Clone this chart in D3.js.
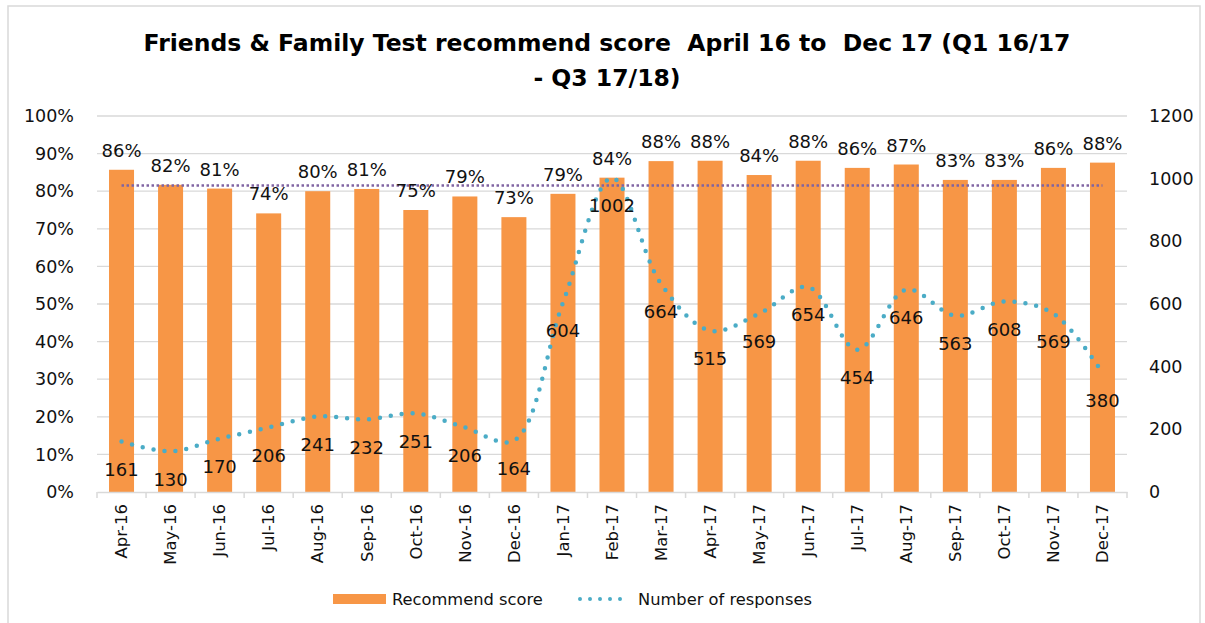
<!DOCTYPE html>
<html>
<head>
<meta charset="utf-8">
<script src="https://cdn.jsdelivr.net/npm/d3@7"></script>
<style>
  body { margin: 0; background: #fff; }
  text { font-family: "DejaVu Sans", sans-serif; fill: #111; }
</style>
</head>
<body>
<div class="chart"></div>
<script>
// data
var months = ["Apr-16", "May-16", "Jun-16", "Jul-16", "Aug-16", "Sep-16", "Oct-16",
    "Nov-16", "Dec-16", "Jan-17", "Feb-17", "Mar-17", "Apr-17", "May-17", "Jun-17",
    "Jul-17", "Aug-17", "Sep-17", "Oct-17", "Nov-17", "Dec-17"];
var recommendScore = [0.857, 0.817, 0.807, 0.741, 0.800, 0.806, 0.750, 0.786, 0.731,
    0.793, 0.836, 0.880, 0.881, 0.843, 0.881, 0.862, 0.871, 0.830, 0.830, 0.862, 0.876];
var responses = [161, 130, 170, 206, 241, 232, 251, 206, 164, 604, 1002, 664, 515,
    569, 654, 454, 646, 563, 608, 569, 380];
var averageScore = months.map(function () { return 0.815; });
var leftTicks = [0, 0.1, 0.2, 0.3, 0.4, 0.5, 0.6, 0.7, 0.8, 0.9, 1.0];
var rightTicks = [0, 200, 400, 600, 800, 1000, 1200];

var W = 1205, H = 623;
var margin = {top: 116, right: 78, bottom: 131, left: 97},
    width = W - margin.left - margin.right,
    height = H - margin.top - margin.bottom;

var ORANGE = "#f79646", TEAL = "#4bacc6", PURPLE = "#8064a2", GRID = "#d9d9d9";

var root = d3.select(".chart").append("svg")
    .attr("width", W)
    .attr("height", H);

// chart frame
root.append("rect")
    .attr("x", 8).attr("y", 6)
    .attr("width", 1192).attr("height", 640)
    .attr("fill", "#fff")
    .attr("stroke", GRID)
    .attr("stroke-width", 1.5);

// title
var title = root.append("text")
    .attr("x", 607)
    .attr("text-anchor", "middle")
    .style("font-weight", "bold")
    .style("font-size", "23.5px")
    .style("white-space", "pre")
    .style("fill", "#000");
title.append("tspan").attr("x", 607).attr("y", 51)
    .text("Friends & Family Test recommend score  April 16 to  Dec 17 (Q1 16/17");
title.append("tspan").attr("x", 607).attr("y", 86)
    .text("- Q3 17/18)");

var svg = root.append("g")
    .attr("transform", "translate(" + margin.left + "," + margin.top + ")");

var x = d3.scaleBand()
    .domain(months)
    .range([0, width])
    .paddingInner(0.49)
    .paddingOuter(0.245);

var y = d3.scaleLinear().domain([0, 1]).range([height, 0]);
var y2 = d3.scaleLinear().domain([0, 1200]).range([height, 0]);

// gridlines
svg.append("g")
    .selectAll("line")
    .data(leftTicks.slice(1))
    .enter().append("line")
    .attr("x1", 0).attr("x2", width)
    .attr("y1", function (d) { return y(d); })
    .attr("y2", function (d) { return y(d); })
    .attr("stroke", GRID)
    .attr("stroke-width", 1.3);

// left axis
var yAxis = svg.append("g")
    .call(d3.axisLeft(y).tickValues(leftTicks).tickFormat(d3.format(".0%")).tickSize(0).tickPadding(23));
yAxis.select(".domain").remove();
yAxis.selectAll("text").style("font-size", "17.5px").style("font-family", "DejaVu Sans").attr("fill", "#111");

// right axis
var y2Axis = svg.append("g")
    .attr("transform", "translate(" + width + ",0)")
    .call(d3.axisRight(y2).tickValues(rightTicks).tickFormat(d3.format("d")).tickSize(0).tickPadding(22));
y2Axis.select(".domain").remove();
y2Axis.selectAll("text").style("font-size", "17.5px").style("font-family", "DejaVu Sans").attr("fill", "#111");

// bars
svg.selectAll(".bar")
    .data(recommendScore)
    .enter().append("rect")
    .attr("class", "bar")
    .attr("x", function (d, i) { return x(months[i]); })
    .attr("width", x.bandwidth())
    .attr("y", function (d) { return y(d); })
    .attr("height", function (d) { return height - y(d); })
    .attr("fill", ORANGE);

// x axis
var xAxis = svg.append("g")
    .attr("transform", "translate(0," + height + ")")
    .call(d3.axisBottom(x).tickSize(0).tickPadding(0));
xAxis.select(".domain").attr("stroke", GRID).attr("stroke-width", 1.5);
xAxis.selectAll(".tick line").remove();
xAxis.selectAll(".tick text")
    .style("font-size", "16.5px")
    .style("font-family", "DejaVu Sans")
    .attr("fill", "#111")
    .attr("transform", "rotate(-90)")
    .attr("text-anchor", "end")
    .attr("x", -12)
    .attr("y", 0)
    .attr("dy", "0.35em");
// tick marks between the categories
xAxis.append("g")
    .selectAll("line")
    .data(d3.range(months.length + 1))
    .enter().append("line")
    .attr("x1", function (i) { return i * width / months.length; })
    .attr("x2", function (i) { return i * width / months.length; })
    .attr("y1", 0).attr("y2", 6)
    .attr("stroke", GRID)
    .attr("stroke-width", 1.5);

var cx = function (i) { return x(months[i]) + x.bandwidth() / 2; };

// average line
svg.append("path")
    .datum(averageScore)
    .attr("fill", "none")
    .attr("stroke", PURPLE)
    .attr("stroke-width", 2.5)
    .attr("stroke-dasharray", "2.5 2.5")
    .attr("d", d3.line().x(function (d, i) { return cx(i); }).y(function (d) { return y(d); }));

// responses line
svg.append("path")
    .datum(responses)
    .attr("fill", "none")
    .attr("stroke", TEAL)
    .attr("stroke-width", 4.5)
    .attr("stroke-linecap", "round")
    .attr("stroke-dasharray", "0 11")
    .attr("d", d3.line().curve(d3.curveCatmullRom.alpha(0.5))
        .x(function (d, i) { return cx(i); })
        .y(function (d) { return y2(d); }));

// bar labels
svg.selectAll(".bar-label")
    .data(recommendScore)
    .enter().append("text")
    .attr("class", "bar-label")
    .attr("x", function (d, i) { return cx(i); })
    .attr("y", function (d) { return y(d) - 13; })
    .attr("text-anchor", "middle")
    .style("font-size", "18px")
    .text(function (d) { return Math.round(d * 100) + "%"; });

// response labels
svg.selectAll(".resp-label")
    .data(responses)
    .enter().append("text")
    .attr("class", "resp-label")
    .attr("x", function (d, i) { return cx(i); })
    .attr("y", function (d) { return y2(d) + 28; })
    .attr("dy", "0.35em")
    .attr("text-anchor", "middle")
    .style("font-size", "18px")
    .text(function (d) { return d; });

// legend
var legend = root.append("g").attr("transform", "translate(0,599)");
legend.append("rect")
    .attr("x", 333).attr("y", -5)
    .attr("width", 53).attr("height", 10)
    .attr("fill", ORANGE);
legend.append("text")
    .attr("x", 392).attr("y", 0).attr("dy", "0.35em")
    .style("font-size", "16.3px")
    .text("Recommend score");
legend.append("line")
    .attr("x1", 580).attr("x2", 630)
    .attr("y1", 0).attr("y2", 0)
    .attr("stroke", TEAL)
    .attr("stroke-width", 4)
    .attr("stroke-linecap", "round")
    .attr("stroke-dasharray", "0 10");
legend.append("text")
    .attr("x", 638).attr("y", 0).attr("dy", "0.35em")
    .style("font-size", "16.3px")
    .text("Number of responses");
</script>
</body>
</html>
